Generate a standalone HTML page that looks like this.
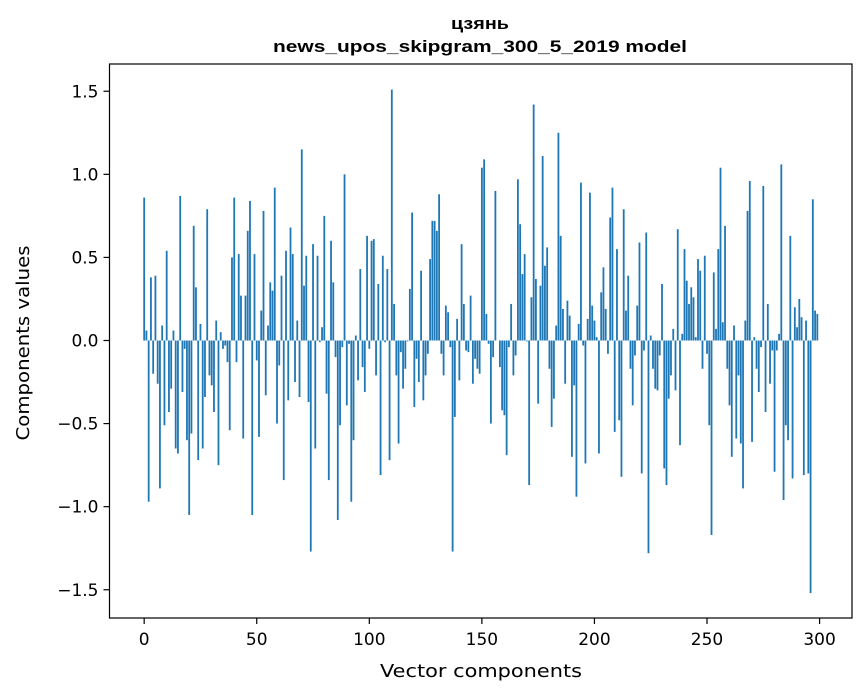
<!DOCTYPE html>
<html><head><meta charset="utf-8"><style>
html,body{margin:0;padding:0;background:#fff;}
svg{display:block;}
</style></head><body>
<svg id="chart" width="867" height="696" viewBox="0 0 867 696" xmlns="http://www.w3.org/2000/svg">
<rect width="867" height="696" fill="#fff"/>
<text x="480" y="29" text-anchor="middle" font-family="'Liberation Sans', Arial, sans-serif" font-weight="bold" font-size="17" textLength="58" lengthAdjust="spacingAndGlyphs">цзянь</text>
<text x="480" y="52" text-anchor="middle" font-family="'Liberation Sans', Arial, sans-serif" font-weight="bold" font-size="17" textLength="414" lengthAdjust="spacingAndGlyphs">news_upos_skipgram_300_5_2019 model</text>
<g id="bars"></g>
<g id="axes"></g>
<text x="481" y="677" text-anchor="middle" font-family="'DejaVu Sans', sans-serif" font-size="18" textLength="202" lengthAdjust="spacingAndGlyphs">Vector components</text>
<text transform="translate(29,343) rotate(-90)" text-anchor="middle" font-family="'DejaVu Sans', sans-serif" font-size="18" textLength="195" lengthAdjust="spacingAndGlyphs">Components values</text>
</svg>
<script>
const values = [
0.86,0.06,-0.97,0.38,-0.2,0.39,-0.26,-0.89,0.09,-0.51,
0.54,-0.43,-0.29,0.06,-0.65,-0.68,0.87,-0.31,-0.05,-0.6,
-1.05,-0.56,0.69,0.32,-0.72,0.1,-0.65,-0.34,0.79,-0.21,
-0.27,-0.43,0.12,-0.75,0.05,-0.05,-0.03,-0.13,-0.54,0.5,
0.86,-0.13,0.52,0.27,-0.59,0.27,0.66,0.84,-1.05,0.52,
-0.12,-0.58,0.18,0.78,-0.33,0.09,0.35,0.3,0.92,-0.5,
-0.15,0.39,-0.84,0.54,-0.36,0.68,0.52,-0.25,0.12,-0.34,
1.15,0.33,0.51,-0.37,-1.27,0.58,-0.65,0.51,-0.01,0.08,
0.75,-0.32,-0.84,0.6,0.35,-0.1,-1.08,-0.51,-0.04,1.0,
-0.39,-0.02,-0.97,-0.6,0.03,-0.24,0.43,-0.16,-0.31,0.63,
-0.05,0.6,0.61,-0.21,0.34,-0.81,0.51,-0.01,0.43,-0.72,
1.51,0.22,-0.21,-0.62,-0.07,-0.29,-0.17,-0.005,0.31,0.77,
-0.4,-0.11,-0.25,0.42,-0.36,-0.21,-0.08,0.49,0.72,0.72,
0.66,0.88,-0.08,-0.21,0.21,0.17,-0.04,-1.27,-0.46,0.13,
-0.24,0.58,0.22,-0.06,-0.07,0.27,-0.26,-0.11,-0.17,-0.2,
1.04,1.09,0.16,-0.02,-0.5,-0.1,0.9,0.0,-0.16,-0.42,
-0.45,-0.69,-0.04,0.22,-0.21,-0.09,0.97,0.7,0.4,0.52,
-0.005,-0.87,0.26,1.42,0.37,-0.38,0.33,1.11,0.45,0.56,
-0.17,-0.52,-0.35,0.09,1.25,0.63,0.19,-0.26,0.24,0.15,
-0.7,-0.27,-0.94,0.1,0.95,-0.03,-0.74,0.13,0.89,0.21,
0.12,0.02,-0.68,0.29,0.44,0.19,-0.08,0.74,0.92,-0.55,
0.55,-0.48,-0.82,0.79,0.18,0.39,-0.17,-0.39,-0.09,0.21,
0.59,-0.8,-0.06,0.65,-1.28,0.03,-0.17,-0.29,-0.3,-0.09,
0.34,-0.77,-0.87,-0.35,-0.21,0.07,-0.3,0.67,-0.63,0.04,
0.55,0.36,0.22,0.32,0.26,0.02,0.49,0.42,-0.17,0.51,
-0.08,-0.51,-1.17,0.41,0.07,0.55,1.04,0.11,0.69,-0.17,
-0.39,-0.7,0.09,-0.59,-0.21,-0.62,-0.89,0.12,0.78,0.96,
-0.61,0.02,-0.17,-0.31,-0.04,0.93,-0.43,0.22,-0.26,-0.06,
-0.79,-0.06,0.04,1.06,-0.96,-0.51,-0.6,0.63,-0.83,0.2,
0.08,0.25,0.14,-0.81,0.12,-0.8,-1.52,0.85,0.18,0.16
];
const xTicks = [0,50,100,150,200,250,300];
const yTicks = [-1.5,-1.0,-0.5,0.0,0.5,1.0,1.5];
const yTickLabels = ["\u22121.5","\u22121.0","\u22120.5","0.0","0.5","1.0","1.5"];

const NS = "http://www.w3.org/2000/svg";
const L = 109.5, R = 852, T = 64, B = 618;
const xMin = -15.4, xMax = 314.4, yMin = -1.67, yMax = 1.664;
const xs = v => L + (v - xMin) / (xMax - xMin) * (R - L);
const ys = v => B - (v - yMin) / (yMax - yMin) * (B - T);
function mk(tag, attrs, parent) {
  const e = document.createElementNS(NS, tag);
  for (const k in attrs) e.setAttribute(k, attrs[k]);
  parent.appendChild(e);
  return e;
}
const gb = document.getElementById('bars');
const y0 = ys(0);
values.forEach((v, i) => {
  const x1 = xs(i - 0.4), x2 = xs(i + 0.4);
  const yv = ys(v);
  const r = mk('rect', {x: x1, y: Math.min(yv, y0), width: x2 - x1, height: Math.abs(yv - y0), fill: '#1f77b4'}, gb);
  
  
});
const ga = document.getElementById('axes');
const frame = mk('rect', {x: L, y: T, width: R - L, height: B - T, fill: 'none', stroke: '#000', 'stroke-width': 1.2}, ga);


xTicks.forEach(t => {
  const x = xs(t);
  mk('line', {x1: x, x2: x, y1: B, y2: B + 6, stroke: '#000', 'stroke-width': 1.2}, ga);
  const tx = mk('text', {x: x, y: B + 27, 'text-anchor': 'middle', 'font-family': 'DejaVu Sans, sans-serif', 'font-size': 17, fill: '#000'}, ga);
  tx.textContent = t;
  
  
});
yTicks.forEach((t, i) => {
  const y = ys(t);
  mk('line', {x1: L - 6, x2: L, y1: y, y2: y, stroke: '#000', 'stroke-width': 1.2}, ga);
  const tx = mk('text', {x: L - 11, y: y + 6, 'text-anchor': 'end', 'font-family': 'DejaVu Sans, sans-serif', 'font-size': 17, fill: '#000'}, ga);
  tx.textContent = yTickLabels[i];
  
  
});
</script>
</body></html>
